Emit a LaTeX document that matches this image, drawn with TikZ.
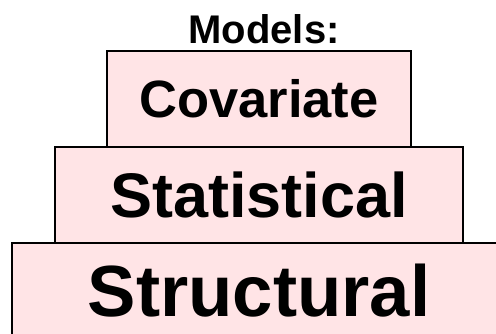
\documentclass[tikz,border=0pt]{standalone}
\usepackage{fontspec}
\setmainfont{Liberation Sans}
\definecolor{boxpink}{RGB}{255,228,230}
\begin{document}
\begin{tikzpicture}[x=1pt,y=-1pt,
  tier/.style={draw=black,line width=1.3pt,fill=boxpink,inner sep=0pt,font=\bfseries},
  ttl/.style={font=\bfseries\fontsize{40}{44}\selectfont,inner sep=0pt}]
\useasboundingbox (0,0) rectangle (496,333);
\clip (0,0) rectangle (496,333);
\node[tier,minimum width=494pt,minimum height=96pt,font=\bfseries\fontsize{72.5}{76}\selectfont] (structural) at (259,291) {Structural};
\node[tier,minimum width=408pt,minimum height=96pt,font=\bfseries\fontsize{63}{66}\selectfont] (statistical) at (259,195) {Statistical};
\node[tier,minimum width=304pt,minimum height=96pt,font=\bfseries\fontsize{52.5}{56}\selectfont] (covariate) at (259,99) {Covariate};
\node[ttl,anchor=base] (title) at (264,43) {Models:};
\end{tikzpicture}
\end{document}
